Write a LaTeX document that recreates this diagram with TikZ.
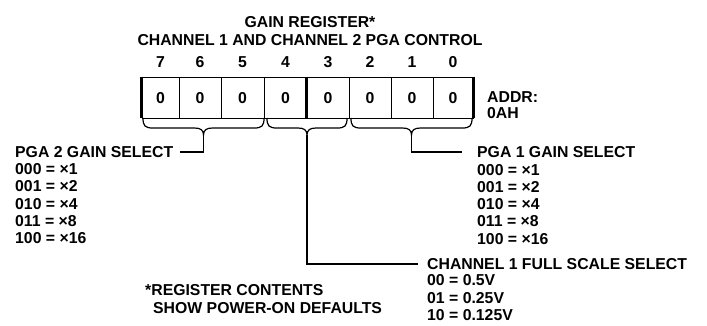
\documentclass[tikz,border=0pt]{standalone}
\usepackage{fontspec}
\setmainfont{Liberation Sans}
\begin{document}
\begin{tikzpicture}[x=1pt,y=-1pt,
  txt/.style={font=\fontsize{15.8}{17.3}\selectfont\bfseries, inner sep=0pt, text height=11.3pt, text depth=0pt},
  lst/.style={font=\fontsize{15.8}{17.3}\selectfont\bfseries, inner sep=0pt, align=left, anchor=north west},
  cell/.style={draw, line width=0.9pt, inner sep=0pt, minimum height=41pt, font=\fontsize{15.8}{17.3}\selectfont\bfseries, text height=11.3pt, text depth=0pt},
  thick bar/.style={line width=3.2pt},
  brc/.style={line width=1.2pt},
  conn/.style={line width=1.4pt}]
\useasboundingbox (0,0) rectangle (707,325);
\newcommand{\regbrace}[3]{%
  \draw[brc] (#1,118) .. controls (#1,126) and ({#1+2},128) .. ({#1+10},128)
    -- ({(#1+#2)/2-9},128) .. controls ({(#1+#2)/2-3},128) and ({(#1+#2)/2},130) .. ({(#1+#2)/2},135)
    .. controls ({(#1+#2)/2},130) and ({(#1+#2)/2+3},128) .. ({(#1+#2)/2+9},128)
    -- ({#2-10},128) .. controls ({#2-2},128) and (#2,126) .. (#2,118);
  \coordinate (#3) at ({(#1+#2)/2},135);}
% title
\node[txt] (t1) at (310,22) {GAIN REGISTER*};
\node[txt] (t2) at (310,40) {CHANNEL 1 AND CHANNEL 2 PGA CONTROL};
% cells
\node[cell, minimum width=37pt] (c7) at (160.5,97.5) {0};
\node[cell, minimum width=42pt] (c6) at (200,97.5) {0};
\node[cell, minimum width=43pt] (c5) at (242.5,97.5) {0};
\node[cell, minimum width=43pt] (c4) at (285.5,97.5) {0};
\node[cell, minimum width=42pt] (c3) at (328,97.5) {0};
\node[cell, minimum width=42pt] (c2) at (370,97.5) {0};
\node[cell, minimum width=42pt] (c1) at (412,97.5) {0};
\node[cell, minimum width=40pt] (c0) at (453,97.5) {0};
% bit numbers
\foreach \n/\c in {7/c7,6/c6,5/c5,4/c4,3/c3,2/c2,1/c1,0/c0}
  \node[txt] (n\n) at (\c |- 0,62) {\n};
% thick separators
\draw[thick bar] (c7.north west) -- (c7.south west);
\draw[thick bar] (c3.north west) -- (c3.south west);
\draw[thick bar] (c0.north east) -- (c0.south east);
% address
\node[txt, anchor=west] (addr) at (487,97) {ADDR:};
\node[txt, anchor=west] (addrv) at (487,112.5) {0AH};
% braces
\regbrace{143}{264}{b1}
\regbrace{267}{347}{b2}
\regbrace{351}{472}{b3}
% labels
\node[txt, anchor=west] (pga2) at (15,152) {PGA 2 GAIN SELECT};
\node[lst] (pga2l) at (15,163.4) {000 = ×1\\001 = ×2\\010 = ×4\\011 = ×8\\100 = ×16};
\node[txt, anchor=west] (pga1) at (477,152) {PGA 1 GAIN SELECT};
\node[lst] (pga1l) at (477,163.8) {000 = ×1\\001 = ×2\\010 = ×4\\011 = ×8\\100 = ×16};
\node[txt, anchor=west] (ch1) at (427,264) {CHANNEL 1 FULL SCALE SELECT};
\node[lst, font=\fontsize{15.8}{17.6}\selectfont\bfseries] (ch1l) at (427,274.5) {00 = 0.5V\\01 = 0.25V\\10 = 0.125V};
\node[lst, font=\fontsize{15.8}{18}\selectfont\bfseries] (note) at (145,284.4) {*REGISTER CONTENTS\\\hspace*{8pt}SHOW POWER-ON DEFAULTS};
% connectors
\draw[conn] (b1) |- ([xshift=7pt]pga2.east);
\draw[conn] (b3) |- ([xshift=-15pt]pga1.west);
\draw[conn] (b2) |- ([xshift=-9pt]ch1.west);
\end{tikzpicture}
\end{document}
